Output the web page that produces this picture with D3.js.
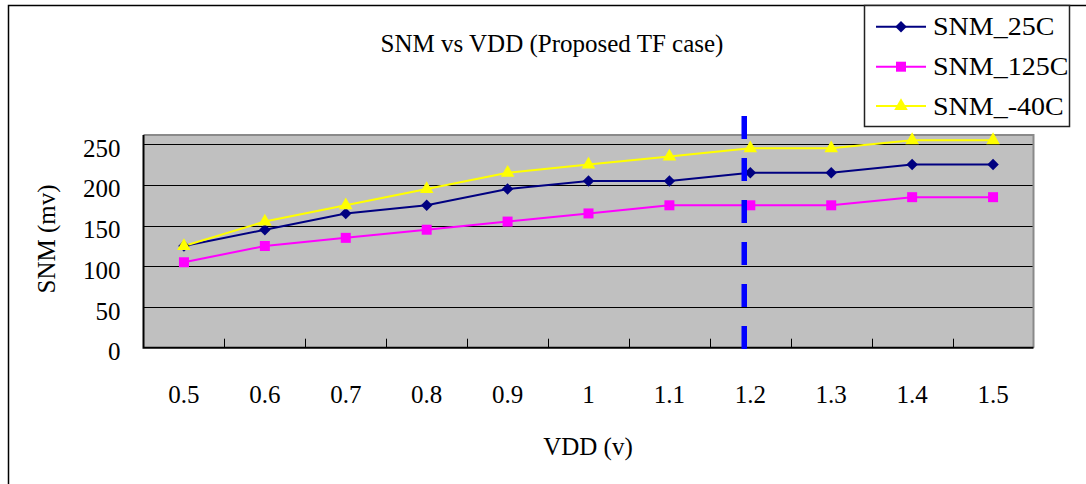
<!DOCTYPE html>
<html>
<head>
<meta charset="utf-8">
<script src="https://cdn.jsdelivr.net/npm/d3@7"></script>
<style>
  html, body { margin: 0; padding: 0; background: #fff; }
  svg { display: block; }
  text { font-family: "Liberation Serif", "DejaVu Serif", serif; fill: #000; }
</style>
</head>
<body>
<svg id="chart" width="1086" height="484"></svg>
<script>
// VDD sweep (volts) and static noise margin (mV) per temperature corner
const vdd = ["0.5", "0.6", "0.7", "0.8", "0.9", "1", "1.1", "1.2", "1.3", "1.4", "1.5"];
const snm25C  = [125, 145, 165, 175, 195, 205, 205, 215, 215, 225, 225];
const snm125C = [105, 125, 135, 145, 155, 165, 175, 175, 175, 185, 185];
const snmM40C = [125, 155, 175, 195, 215, 225, 235, 245, 245, 255, 255];
const yTicks = [0, 50, 100, 150, 200, 250];
const seriesNames = ["SNM_25C", "SNM_125C", "SNM_-40C"];
const nominalVdd = "1.2";

// diamond = square turned 45 degrees
const diamond = {
  draw(ctx, size) {
    const r = Math.sqrt(size / 2);
    ctx.moveTo(0, -r); ctx.lineTo(r, 0); ctx.lineTo(0, r); ctx.lineTo(-r, 0); ctx.closePath();
  }
};

const series = [
  { name: seriesNames[0], values: snm25C,  color: "#000080", symbol: diamond,          size: 66 },
  { name: seriesNames[1], values: snm125C, color: "#FF00FF", symbol: d3.symbolSquare,   size: 100 },
  { name: seriesNames[2], values: snmM40C, color: "#FFFF00", symbol: d3.symbolTriangle, size: 80 }
];

const svg = d3.select("#chart");

// outer chart frame
svg.append("rect")
  .attr("x", 8.5).attr("y", 5.5).attr("width", 1100).attr("height", 500)
  .attr("fill", "#fff").attr("stroke", "#000").attr("stroke-width", 1.5);

const plot = { left: 143.5, right: 1033.5, top: 135, bottom: 347.7 };

const x = d3.scaleBand().domain(vdd).range([plot.left, plot.right]).paddingInner(0).paddingOuter(0);
const y = d3.scaleLinear().domain([0, 261.4]).range([plot.bottom, plot.top]);
const cx = v => x(v) + x.bandwidth() / 2;

// plot area
svg.append("rect")
  .attr("x", plot.left).attr("y", plot.top)
  .attr("width", plot.right - plot.left).attr("height", plot.bottom - plot.top)
  .attr("fill", "#C0C0C0");

// horizontal gridlines
svg.append("g").selectAll("line").data(yTicks.filter(t => t > 0)).join("line")
  .attr("x1", plot.left).attr("x2", plot.right)
  .attr("y1", d => Math.round(y(d)) + 0.5).attr("y2", d => Math.round(y(d)) + 0.5)
  .attr("stroke", "#000").attr("stroke-width", 1);

// plot border (top / right)
svg.append("path")
  .attr("d", `M${plot.left},${plot.top}H${plot.right}V${plot.bottom}`)
  .attr("fill", "none").attr("stroke", "#8a8a8a").attr("stroke-width", 2);

// x axis: ticks between categories, pointing up into the plot
const xAxis = d3.axisBottom(x).tickSize(0).tickFormat(d => d).tickPadding(0);
const gx = svg.append("g").attr("transform", `translate(0,${plot.bottom})`).call(xAxis);
gx.select(".domain").remove();
gx.selectAll(".tick text")
  .attr("y", 55).attr("dy", 0)
  .style("font-size", "25px").style("font-family", "Liberation Serif, serif");
svg.append("g").selectAll("line").data(vdd.slice(1)).join("line")
  .attr("x1", d => Math.round(x(d)) + 0.5).attr("x2", d => Math.round(x(d)) + 0.5)
  .attr("y1", plot.bottom).attr("y2", plot.bottom - 9)
  .attr("stroke", "#000").attr("stroke-width", 1);

// y axis
const yAxis = d3.axisLeft(y).tickValues(yTicks).tickSize(0).tickPadding(0);
const gy = svg.append("g").attr("transform", `translate(${plot.left},0)`).call(yAxis);
gy.select(".domain").remove();
gy.selectAll(".tick text")
  .attr("x", -23).attr("dy", "0.48em")
  .style("font-size", "25px").style("font-family", "Liberation Serif, serif");

// axis lines
svg.append("path")
  .attr("d", `M${plot.left},${plot.top}V${plot.bottom}H${plot.right}`)
  .attr("fill", "none").attr("stroke", "#000").attr("stroke-width", 2);

// series lines and markers
const line = d3.line().x((d, i) => cx(vdd[i])).y(d => y(d));
series.forEach(s => {
  svg.append("path").datum(s.values)
    .attr("d", line).attr("fill", "none")
    .attr("stroke", s.color).attr("stroke-width", 2);
});
series.forEach(s => {
  svg.append("g").selectAll("path").data(s.values).join("path")
    .attr("transform", (d, i) => `translate(${cx(vdd[i])},${y(d)})`)
    .attr("d", d3.symbol().type(s.symbol).size(s.size))
    .attr("fill", s.color);
});

// nominal supply marker (dashed vertical)
const refX = cx(nominalVdd) - x.bandwidth() * 0.075;
svg.append("line")
  .attr("x1", refX).attr("x2", refX)
  .attr("y1", y(261.4) - 19).attr("y2", plot.bottom + 2)
  .attr("stroke", "#0000FF").attr("stroke-width", 5.5)
  .attr("stroke-dasharray", "23 19");

// title and axis titles
svg.append("text")
  .attr("x", 552).attr("y", 51.5).attr("text-anchor", "middle")
  .style("font-size", "25px")
  .text("SNM vs VDD (Proposed TF case)");

svg.append("text")
  .attr("x", 588).attr("y", 455).attr("text-anchor", "middle")
  .style("font-size", "25px")
  .text("VDD (v)");

svg.append("text")
  .attr("transform", "translate(55,239) rotate(-90)")
  .attr("text-anchor", "middle")
  .style("font-size", "25px")
  .text("SNM (mv)");

// legend
const legend = svg.append("g");
legend.append("rect")
  .attr("x", 864.5).attr("y", 5.5).attr("width", 205).attr("height", 121)
  .attr("fill", "#fff").attr("stroke", "#222").attr("stroke-width", 1.5);
const rows = [26.7, 66.7, 106];
series.forEach((s, i) => {
  const g = legend.append("g").attr("transform", `translate(0,${rows[i]})`);
  g.append("line").attr("x1", 876).attr("x2", 926).attr("y1", 0).attr("y2", 0)
    .attr("stroke", s.color).attr("stroke-width", 2);
  g.append("path").attr("transform", "translate(901,0)")
    .attr("d", d3.symbol().type(s.symbol).size(s.size)).attr("fill", s.color);
  const t = g.append("text").attr("x", 933).attr("y", 0).attr("dy", "0.35em")
    .style("font-size", "25px").text(s.name);
  // the legend face runs a little wider than the axis text
  const w = t.node().getComputedTextLength();
  t.attr("textLength", w * 1.12).attr("lengthAdjust", "spacingAndGlyphs");
});
</script>
</body>
</html>
